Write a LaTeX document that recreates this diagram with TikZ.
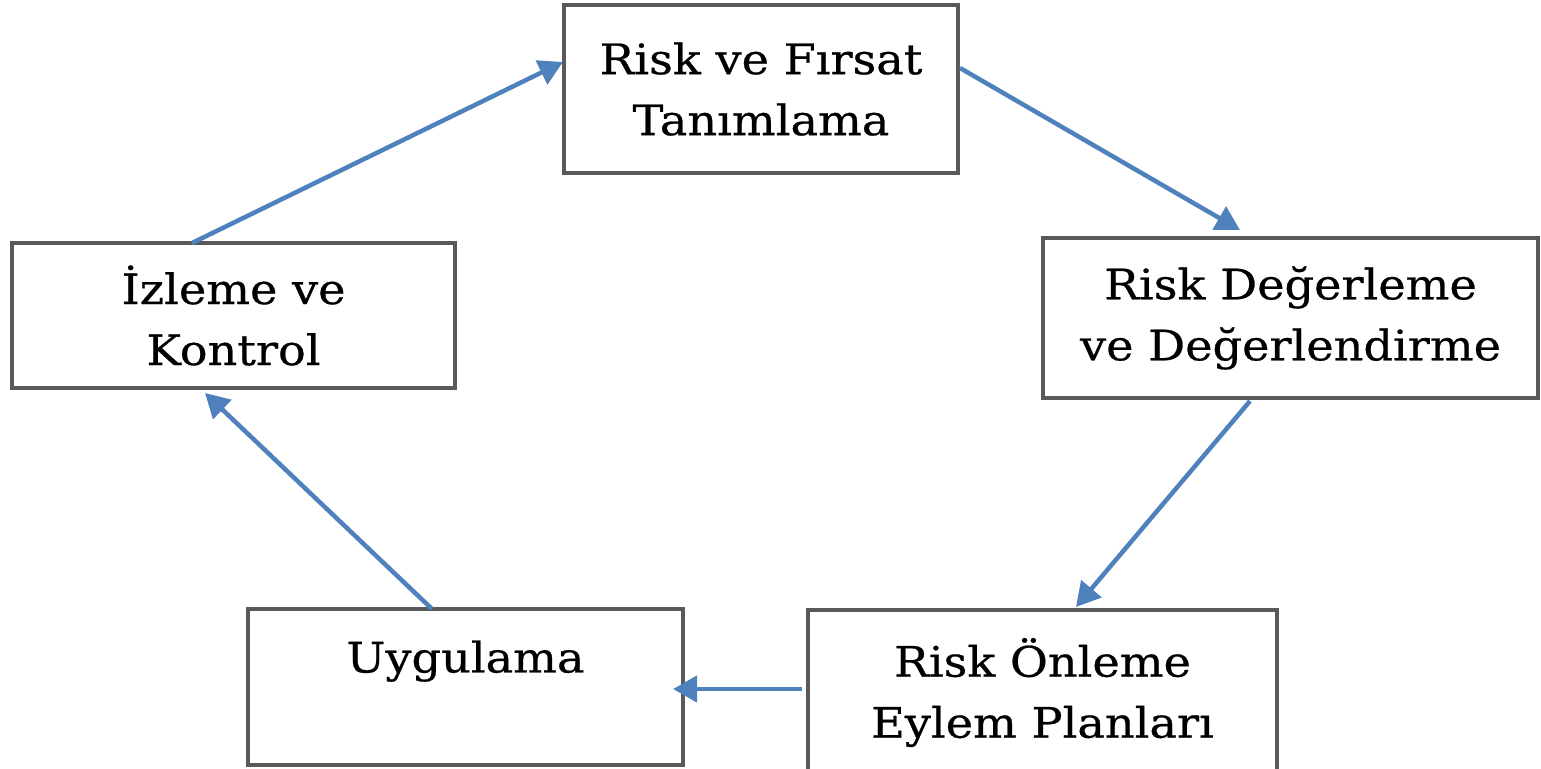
\documentclass[tikz,border=0pt]{standalone}
\usepackage{fontspec}
\setmainfont[FakeStretch=1.1,FakeBold=0.6]{DejaVu Serif}
\usetikzlibrary{calc,arrows.meta}
\definecolor{okmavi}{RGB}{79,129,189}
\tikzset{
	kutu/.style={draw=black!65, line width=3.2pt, outer sep=0pt, inner sep=0pt, align=center, font=\fontsize{42}{61}\selectfont},
	ok/.style={draw=okmavi, line width=4.5pt, -{Triangle[length=24pt,width=26pt]}}
}

\begin{document}
\begin{tikzpicture}[x=1pt,y=-1pt]
			%%%%% START %%%%%
			
			\useasboundingbox (0,0) rectangle (1541,768);
			\clip (0,0) rectangle (1541,768);
			
			\node[kutu, minimum width=394pt, minimum height=168pt] (tanim) at (761,89) {Risk ve Fırsat\\Tanımlama};
			\node[kutu, minimum width=495pt, minimum height=160pt] (degerleme) at (1290.5,318) {Risk Değerleme\\ve Değerlendirme};
			\node[kutu, minimum width=469pt, minimum height=165pt] (onleme) at (1042.5,692.5) {Risk Önleme\\Eylem Planları};
			\node[kutu, minimum width=435pt, minimum height=156pt] (uygulama) at (465.5,687) {Uygulama\\~};
			\node[kutu, minimum width=443pt, minimum height=145pt] (izleme) at (233.5,315.5) {İzleme ve\\Kontrol};
			
			\draw[ok] ($(izleme.north west)+(180,0)$) -- ($(tanim.north west)+(-1,57)$);
			\draw[ok] ($(tanim.north east)+(2,63)$) -- ($(degerleme.north west)+(197,-8)$);
			\draw[ok] ($(degerleme.south west)+(207,3)$) -- ($(onleme.north west)+(268,-3)$);
			\draw[ok] ($(onleme.north west)+(-6,79)$) -- ($(uygulama.north east)+(-10,80)$);
			\draw[ok] ($(uygulama.north west)+(184,0)$) -- ($(izleme.south west)+(193,5)$);
			
			%%%%% END %%%%%
\end{tikzpicture}
\end{document}
